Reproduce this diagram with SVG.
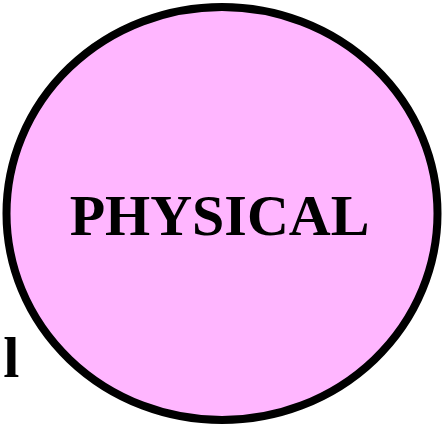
<svg xmlns="http://www.w3.org/2000/svg" width="446" height="425" viewBox="0 0 446 425">
<style>
.lbl{font-family:"Liberation Serif","Times New Roman",serif;font-weight:bold;font-size:58px;fill:#000}
</style>
<rect width="446" height="425" fill="#fff"/>
<g id="connectors"></g>
<g id="physical">
<ellipse cx="222" cy="213.5" rx="215.5" ry="206.5" fill="#ffb6ff" stroke="#000" stroke-width="8"/>
<text class="lbl" x="219.5" y="235" text-anchor="middle">PHYSICAL</text>
</g>
<g id="left-label">
<text class="lbl" x="3.3" y="377">l</text>
</g>
</svg>
